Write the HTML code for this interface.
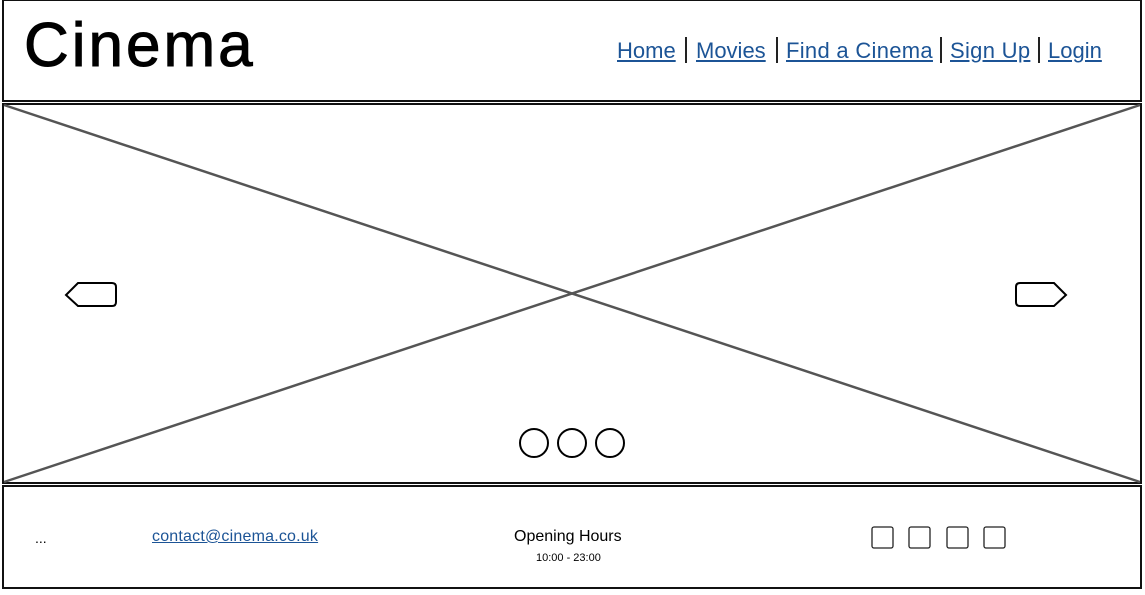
<!DOCTYPE html>
<html><head><meta charset="utf-8"><style>
body{margin:0;width:1145px;height:595px;background:#fff;position:relative;overflow:hidden;font-family:"Liberation Sans",sans-serif}
.a{position:absolute;white-space:nowrap}
.lk{color:#1c5496;text-decoration:underline;font-size:22px}
.sep{position:absolute;width:2px;height:26px;background:#222;top:37px}
</style></head><body>
<svg class="a" style="left:0;top:0" width="1145" height="595">
<rect x="3" y="0" width="1138" height="101" fill="none" stroke="#111" stroke-width="2"/>
<rect x="3" y="104" width="1138" height="379" fill="none" stroke="#111" stroke-width="2"/>
<line x1="4" y1="105" x2="1140" y2="482" stroke="#555" stroke-width="2.5"/>
<line x1="1140" y1="105" x2="4" y2="482" stroke="#555" stroke-width="2.5"/>
<rect x="3" y="486" width="1138" height="102" fill="none" stroke="#111" stroke-width="2"/>
<path d="M78 283 H112 Q116 283 116 287 V302 Q116 306 112 306 H78 L66 295 Z" fill="#fff" stroke="#000" stroke-width="2"/>
<path d="M1054 283 H1020 Q1016 283 1016 287 V302 Q1016 306 1020 306 H1054 L1066 295 Z" fill="#fff" stroke="#000" stroke-width="2"/>
<circle cx="534" cy="443" r="14" fill="#fff" stroke="#000" stroke-width="2"/>
<circle cx="572" cy="443" r="14" fill="#fff" stroke="#000" stroke-width="2"/>
<circle cx="610" cy="443" r="14" fill="#fff" stroke="#000" stroke-width="2"/>
<rect x="872" y="527" width="21" height="21" rx="2" fill="none" stroke="#222" stroke-width="1.3"/>
<rect x="909" y="527" width="21" height="21" rx="2" fill="none" stroke="#222" stroke-width="1.3"/>
<rect x="947" y="527" width="21" height="21" rx="2" fill="none" stroke="#222" stroke-width="1.3"/>
<rect x="984" y="527" width="21" height="21" rx="2" fill="none" stroke="#222" stroke-width="1.3"/>
</svg>
<div class="a" style="left:24px;top:10px;font-size:62px;line-height:72px;color:#000;letter-spacing:3px;-webkit-text-stroke:1px #000">Cinema</div>
<span class="a lk" style="left:617px;top:38px">Home</span>
<div class="sep" style="left:685px"></div>
<span class="a lk" style="left:696px;top:38px">Movies</span>
<div class="sep" style="left:776px"></div>
<span class="a lk" style="left:786px;top:38px;letter-spacing:0.3px">Find a Cinema</span>
<div class="sep" style="left:940px"></div>
<span class="a lk" style="left:950px;top:38px;letter-spacing:0.3px">Sign Up</span>
<div class="sep" style="left:1038px"></div>
<span class="a lk" style="left:1048px;top:38px">Login</span>
<div class="a" style="left:35px;top:530px;font-size:14px">...</div>
<span class="a" style="left:152px;top:528px;font-size:16px;color:#1c5496;text-decoration:underline;letter-spacing:0.2px">contact@cinema.co.uk</span>
<div class="a" style="left:514px;top:528px;font-size:16px">Opening Hours</div>
<div class="a" style="left:536px;top:552px;font-size:11px">10:00 - 23:00</div>
</body></html>
